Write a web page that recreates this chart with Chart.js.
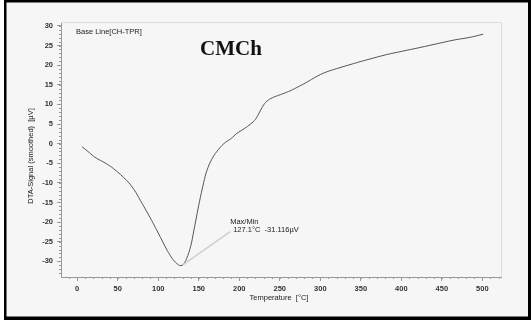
<!DOCTYPE html>
<html lang="en">
  <head>
    <meta charset="UTF-8" />
    <script src="https://cdn.jsdelivr.net/npm/chart.js"></script>
    <title>CMCh - DTA</title>
    <style>
      body {
        margin: 0;
        overflow: hidden;
        background-color: #f6f6f6;
      }
      canvas {
        display: block;
      }
    </style>
  </head>
  <body>
    <canvas id="dtaChart" width="531" height="321"></canvas>

    <script>
      // Temperature [°C] and smoothed DTA signal [µV]
      const temperature = [
        6, 15, 22, 35, 45, 61, 70, 78, 86, 94, 103, 111, 117, 121, 125, 128,
        131, 135, 140, 144, 148, 152, 156, 160, 166, 172, 181, 190, 197, 206,
        214, 220, 224, 229, 234, 241, 251, 261, 271, 282, 292, 300, 308, 320,
        341, 360, 382, 400, 423, 445, 465, 485, 501,
      ];
      const dtaSignal = [
        -0.8, -2.3, -3.5, -5.0, -6.4, -9.4, -11.7, -14.5, -17.4, -20.4, -24.0,
        -27.2, -29.2, -30.2, -30.9, -31.1, -30.8, -29.3, -26.2, -22.1, -17.8,
        -13.7, -10.0, -6.9, -4.0, -2.1, 0.0, 1.3, 2.6, 3.8, 5.0, 6.2, 7.6,
        9.5, 10.8, 11.7, 12.5, 13.3, 14.3, 15.5, 16.7, 17.6, 18.3, 19.1, 20.4,
        21.5, 22.7, 23.5, 24.5, 25.5, 26.4, 27.1, 27.9,
      ];
      const xTicks = [0, 50, 100, 150, 200, 250, 300, 350, 400, 450, 500];
      const yTicks = [-30, -25, -20, -15, -10, -5, 0, 5, 10, 15, 20, 25, 30];
      const minPoint = { temp: 127.1, value: -31.116 };

      const labelFont = { family: "Liberation Sans, Arial", size: 7.5, weight: "bold" };

      // frame, plot border, minor ticks and the text labels
      const decorations = {
        id: "decorations",
        beforeDraw(chart) {
          const ctx = chart.ctx;
          ctx.save();
          ctx.fillStyle = "#f6f6f6";
          ctx.fillRect(0, 0, chart.width, chart.height);
          ctx.restore();
        },
        afterDraw(chart) {
          const ctx = chart.ctx;
          const area = chart.chartArea;
          const x = chart.scales.x;
          const y = chart.scales.y;
          ctx.save();

          // light plot border (top and right)
          ctx.strokeStyle = "#dcdcdc";
          ctx.lineWidth = 1;
          ctx.beginPath();
          ctx.moveTo(area.left, area.top + 0.5);
          ctx.lineTo(area.right + 0.5, area.top + 0.5);
          ctx.lineTo(area.right + 0.5, area.bottom);
          ctx.stroke();

          // minor ticks
          ctx.strokeStyle = "#9a9a9a";
          ctx.beginPath();
          for (let t = -10; t <= 520; t += 10) {
            const px = Math.round(x.getPixelForValue(t)) + 0.5;
            ctx.moveTo(px, area.bottom);
            ctx.lineTo(px, area.bottom + 2);
          }
          for (let v = -33; v <= 30; v += 1) {
            const py = Math.round(y.getPixelForValue(v)) + 0.5;
            ctx.moveTo(area.left - 2, py);
            ctx.lineTo(area.left, py);
          }
          ctx.stroke();

          // texts
          ctx.fillStyle = "#222";
          ctx.font = "7.5px Liberation Sans, Arial";
          ctx.textBaseline = "middle";
          ctx.fillText("Base Line[CH-TPR]", 76, 32);

          ctx.font = "bold 21px Liberation Serif, Times New Roman";
          ctx.textBaseline = "alphabetic";
          ctx.fillStyle = "#111";
          ctx.fillText("CMCh", 200, 55);

          ctx.font = "7.5px Liberation Sans, Arial";
          ctx.fillStyle = "#222";
          ctx.textAlign = "center";
          ctx.textBaseline = "middle";
          ctx.fillText("Temperature  [°C]", 279, 298);

          ctx.save();
          ctx.translate(31, 156);
          ctx.rotate(-Math.PI / 2);
          ctx.fillText("DTA-Signal (smoothed)  [µV]", 0, 0);
          ctx.restore();

          // Max/Min annotation
          const mx = x.getPixelForValue(minPoint.temp);
          const my = y.getPixelForValue(minPoint.value);
          ctx.strokeStyle = "#cfcfcf";
          ctx.lineWidth = 1.5;
          ctx.beginPath();
          ctx.moveTo(mx + 3, my - 1);
          ctx.lineTo(mx + 50, my - 34);
          ctx.stroke();
          ctx.textAlign = "left";
          ctx.fillText("Max/Min", mx + 50, my - 44);
          ctx.fillText(
            minPoint.temp.toFixed(1) + "°C  " + minPoint.value.toFixed(3) + "µV",
            mx + 53,
            my - 36
          );
          ctx.restore();

          // black outer frame
          ctx.save();
          ctx.fillStyle = "#fff";
          ctx.fillRect(0, 0, 4, chart.height);
          ctx.fillRect(0, chart.height - 1, chart.width, 1);
          ctx.fillStyle = "#000";
          ctx.fillRect(4, 0, 2.5, chart.height - 1);
          ctx.fillRect(4, 0, chart.width - 4, 2.5);
          ctx.fillRect(4, chart.height - 4.5, chart.width - 4, 3.5);
          ctx.fillRect(chart.width - 3, 0, 3, chart.height - 1);
          ctx.restore();
        },
      };

      new Chart(document.getElementById("dtaChart").getContext("2d"), {
        type: "line",
        data: {
          datasets: [
            {
              label: "DTA-Signal",
              data: temperature.map((t, i) => ({ x: t, y: dtaSignal[i] })),
              borderColor: "#555",
              borderWidth: 1,
              pointRadius: 0,
              tension: 0.4,
              fill: false,
            },
          ],
        },
        options: {
          responsive: false,
          animation: false,
          layout: { padding: { left: 0, top: 22, right: 30, bottom: 0 } },
          plugins: {
            legend: { display: false },
            tooltip: { enabled: false },
          },
          scales: {
            x: {
              type: "linear",
              min: -20,
              max: 523,
              afterBuildTicks: (scale) => {
                scale.ticks = xTicks.map((v) => ({ value: v }));
              },
              afterFit: (scale) => {
                scale.height = 44;
              },
              grid: {
                drawOnChartArea: false,
                tickLength: 4,
                tickColor: "#9a9a9a",
              },
              border: { color: "#9a9a9a" },
              ticks: { color: "#333", font: labelFont, padding: 3, maxRotation: 0 },
            },
            y: {
              min: -34,
              max: 31,
              afterBuildTicks: (scale) => {
                scale.ticks = yTicks.map((v) => ({ value: v }));
              },
              afterFit: (scale) => {
                scale.width = 61;
              },
              grid: {
                drawOnChartArea: false,
                tickLength: 4,
                tickColor: "#9a9a9a",
              },
              border: { color: "#9a9a9a" },
              ticks: { color: "#333", font: labelFont, padding: 4 },
            },
          },
        },
        plugins: [decorations],
      });
    </script>
  </body>
</html>
